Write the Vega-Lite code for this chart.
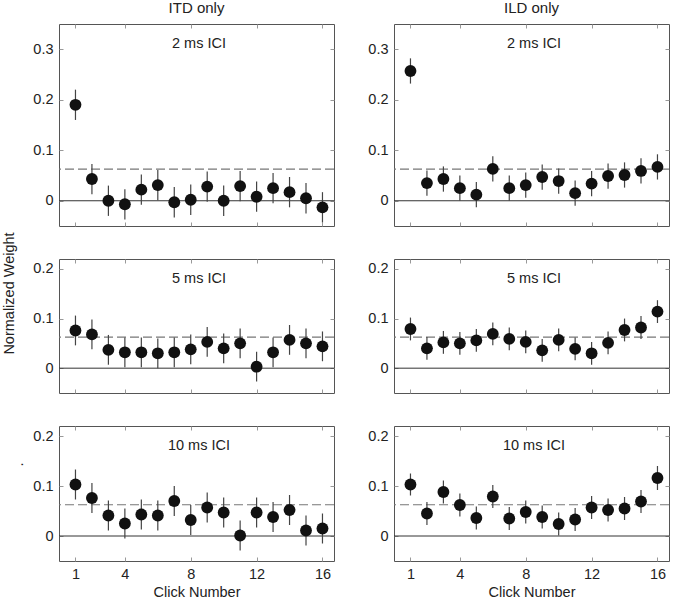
{
"$schema":"https://vega.github.io/schema/vega-lite/v6.json",
"padding":{"left":0,"top":0,"right":2,"bottom":0},
"bounds":"flush",
"config":{"font":"Liberation Sans","view":{"stroke":"#555","strokeWidth":1},
 "axis":{"domain":false,"grid":false,"tickColor":"#999","tickSize":-4,"labelFont":"Liberation Sans","labelFontSize":14.5,"labelColor":"#222","labelPadding":10,"titleFont":"Liberation Sans","titleFontSize":14.5,"titleFontWeight":"normal","titleColor":"#222"},
 "axisX":{"titlePadding":5},
 "title":{"fontSize":15,"fontWeight":"normal","font":"Liberation Sans","color":"#222","offset":8}},
"data":{"values":[
{"c":"ITD only","i":"2 ms ICI","k":1,"w":0.19,"e":0.03},{"c":"ITD only","i":"2 ms ICI","k":2,"w":0.043,"e":0.03},{"c":"ITD only","i":"2 ms ICI","k":3,"w":0.0,"e":0.03},{"c":"ITD only","i":"2 ms ICI","k":4,"w":-0.007,"e":0.03},{"c":"ITD only","i":"2 ms ICI","k":5,"w":0.022,"e":0.03},{"c":"ITD only","i":"2 ms ICI","k":6,"w":0.031,"e":0.03},{"c":"ITD only","i":"2 ms ICI","k":7,"w":-0.003,"e":0.03},{"c":"ITD only","i":"2 ms ICI","k":8,"w":0.002,"e":0.03},{"c":"ITD only","i":"2 ms ICI","k":9,"w":0.028,"e":0.03},{"c":"ITD only","i":"2 ms ICI","k":10,"w":0.0,"e":0.03},{"c":"ITD only","i":"2 ms ICI","k":11,"w":0.029,"e":0.03},{"c":"ITD only","i":"2 ms ICI","k":12,"w":0.008,"e":0.03},{"c":"ITD only","i":"2 ms ICI","k":13,"w":0.025,"e":0.03},{"c":"ITD only","i":"2 ms ICI","k":14,"w":0.017,"e":0.03},{"c":"ITD only","i":"2 ms ICI","k":15,"w":0.005,"e":0.03},{"c":"ITD only","i":"2 ms ICI","k":16,"w":-0.013,"e":0.03},
{"c":"ILD only","i":"2 ms ICI","k":1,"w":0.257,"e":0.025},{"c":"ILD only","i":"2 ms ICI","k":2,"w":0.035,"e":0.025},{"c":"ILD only","i":"2 ms ICI","k":3,"w":0.043,"e":0.025},{"c":"ILD only","i":"2 ms ICI","k":4,"w":0.025,"e":0.025},{"c":"ILD only","i":"2 ms ICI","k":5,"w":0.012,"e":0.025},{"c":"ILD only","i":"2 ms ICI","k":6,"w":0.063,"e":0.025},{"c":"ILD only","i":"2 ms ICI","k":7,"w":0.025,"e":0.025},{"c":"ILD only","i":"2 ms ICI","k":8,"w":0.031,"e":0.025},{"c":"ILD only","i":"2 ms ICI","k":9,"w":0.047,"e":0.025},{"c":"ILD only","i":"2 ms ICI","k":10,"w":0.039,"e":0.025},{"c":"ILD only","i":"2 ms ICI","k":11,"w":0.015,"e":0.025},{"c":"ILD only","i":"2 ms ICI","k":12,"w":0.034,"e":0.025},{"c":"ILD only","i":"2 ms ICI","k":13,"w":0.049,"e":0.025},{"c":"ILD only","i":"2 ms ICI","k":14,"w":0.051,"e":0.025},{"c":"ILD only","i":"2 ms ICI","k":15,"w":0.059,"e":0.025},{"c":"ILD only","i":"2 ms ICI","k":16,"w":0.067,"e":0.025},
{"c":"ITD only","i":"5 ms ICI","k":1,"w":0.076,"e":0.03},{"c":"ITD only","i":"5 ms ICI","k":2,"w":0.068,"e":0.03},{"c":"ITD only","i":"5 ms ICI","k":3,"w":0.037,"e":0.03},{"c":"ITD only","i":"5 ms ICI","k":4,"w":0.032,"e":0.03},{"c":"ITD only","i":"5 ms ICI","k":5,"w":0.032,"e":0.03},{"c":"ITD only","i":"5 ms ICI","k":6,"w":0.03,"e":0.03},{"c":"ITD only","i":"5 ms ICI","k":7,"w":0.032,"e":0.03},{"c":"ITD only","i":"5 ms ICI","k":8,"w":0.038,"e":0.03},{"c":"ITD only","i":"5 ms ICI","k":9,"w":0.053,"e":0.03},{"c":"ITD only","i":"5 ms ICI","k":10,"w":0.04,"e":0.03},{"c":"ITD only","i":"5 ms ICI","k":11,"w":0.05,"e":0.03},{"c":"ITD only","i":"5 ms ICI","k":12,"w":0.003,"e":0.03},{"c":"ITD only","i":"5 ms ICI","k":13,"w":0.032,"e":0.03},{"c":"ITD only","i":"5 ms ICI","k":14,"w":0.057,"e":0.03},{"c":"ITD only","i":"5 ms ICI","k":15,"w":0.05,"e":0.03},{"c":"ITD only","i":"5 ms ICI","k":16,"w":0.044,"e":0.03},
{"c":"ILD only","i":"5 ms ICI","k":1,"w":0.079,"e":0.023},{"c":"ILD only","i":"5 ms ICI","k":2,"w":0.04,"e":0.023},{"c":"ILD only","i":"5 ms ICI","k":3,"w":0.052,"e":0.023},{"c":"ILD only","i":"5 ms ICI","k":4,"w":0.05,"e":0.023},{"c":"ILD only","i":"5 ms ICI","k":5,"w":0.056,"e":0.023},{"c":"ILD only","i":"5 ms ICI","k":6,"w":0.069,"e":0.023},{"c":"ILD only","i":"5 ms ICI","k":7,"w":0.059,"e":0.023},{"c":"ILD only","i":"5 ms ICI","k":8,"w":0.053,"e":0.023},{"c":"ILD only","i":"5 ms ICI","k":9,"w":0.036,"e":0.023},{"c":"ILD only","i":"5 ms ICI","k":10,"w":0.057,"e":0.023},{"c":"ILD only","i":"5 ms ICI","k":11,"w":0.039,"e":0.023},{"c":"ILD only","i":"5 ms ICI","k":12,"w":0.03,"e":0.023},{"c":"ILD only","i":"5 ms ICI","k":13,"w":0.051,"e":0.023},{"c":"ILD only","i":"5 ms ICI","k":14,"w":0.077,"e":0.023},{"c":"ILD only","i":"5 ms ICI","k":15,"w":0.082,"e":0.023},{"c":"ILD only","i":"5 ms ICI","k":16,"w":0.114,"e":0.023},
{"c":"ITD only","i":"10 ms ICI","k":1,"w":0.103,"e":0.03},{"c":"ITD only","i":"10 ms ICI","k":2,"w":0.076,"e":0.03},{"c":"ITD only","i":"10 ms ICI","k":3,"w":0.041,"e":0.03},{"c":"ITD only","i":"10 ms ICI","k":4,"w":0.025,"e":0.03},{"c":"ITD only","i":"10 ms ICI","k":5,"w":0.043,"e":0.03},{"c":"ITD only","i":"10 ms ICI","k":6,"w":0.041,"e":0.03},{"c":"ITD only","i":"10 ms ICI","k":7,"w":0.07,"e":0.03},{"c":"ITD only","i":"10 ms ICI","k":8,"w":0.032,"e":0.03},{"c":"ITD only","i":"10 ms ICI","k":9,"w":0.057,"e":0.03},{"c":"ITD only","i":"10 ms ICI","k":10,"w":0.047,"e":0.03},{"c":"ITD only","i":"10 ms ICI","k":11,"w":0.001,"e":0.03},{"c":"ITD only","i":"10 ms ICI","k":12,"w":0.047,"e":0.03},{"c":"ITD only","i":"10 ms ICI","k":13,"w":0.038,"e":0.03},{"c":"ITD only","i":"10 ms ICI","k":14,"w":0.052,"e":0.03},{"c":"ITD only","i":"10 ms ICI","k":15,"w":0.011,"e":0.03},{"c":"ITD only","i":"10 ms ICI","k":16,"w":0.015,"e":0.03},
{"c":"ILD only","i":"10 ms ICI","k":1,"w":0.103,"e":0.022},{"c":"ILD only","i":"10 ms ICI","k":2,"w":0.045,"e":0.023},{"c":"ILD only","i":"10 ms ICI","k":3,"w":0.088,"e":0.023},{"c":"ILD only","i":"10 ms ICI","k":4,"w":0.062,"e":0.023},{"c":"ILD only","i":"10 ms ICI","k":5,"w":0.036,"e":0.023},{"c":"ILD only","i":"10 ms ICI","k":6,"w":0.079,"e":0.023},{"c":"ILD only","i":"10 ms ICI","k":7,"w":0.035,"e":0.023},{"c":"ILD only","i":"10 ms ICI","k":8,"w":0.048,"e":0.023},{"c":"ILD only","i":"10 ms ICI","k":9,"w":0.038,"e":0.023},{"c":"ILD only","i":"10 ms ICI","k":10,"w":0.024,"e":0.023},{"c":"ILD only","i":"10 ms ICI","k":11,"w":0.033,"e":0.023},{"c":"ILD only","i":"10 ms ICI","k":12,"w":0.057,"e":0.023},{"c":"ILD only","i":"10 ms ICI","k":13,"w":0.052,"e":0.023},{"c":"ILD only","i":"10 ms ICI","k":14,"w":0.055,"e":0.023},{"c":"ILD only","i":"10 ms ICI","k":15,"w":0.069,"e":0.023},{"c":"ILD only","i":"10 ms ICI","k":16,"w":0.116,"e":0.024}
]},
"columns":2,
"spacing":{"row":33,"column":60},
"concat":[
{"width":275,"height":202,"title":{"text":"ITD only"},
 "transform":[{"filter":"datum.c=='ITD only' && datum.i=='2 ms ICI'"}],
 "layer":[
  {"mark":{"type":"rule","color":"#333","strokeWidth":1},"transform":[{"filter":"datum.k==1"}],"encoding":{"y":{"datum":0,"type":"quantitative","scale":{"domain":[-0.05,0.35],"nice":false,"zero":false},"axis":null}}},
  {"mark":{"type":"rule","color":"#777","strokeWidth":1.2,"strokeDash":[9,4]},"transform":[{"filter":"datum.k==1"}],"encoding":{"y":{"datum":0.0625,"type":"quantitative","scale":{"domain":[-0.05,0.35],"nice":false,"zero":false},"axis":null}}},
  {"mark":{"type":"errorbar","color":"#444","thickness":1.2},"encoding":{"x":{"field":"k","type":"quantitative","scale":{"domain":[0,16.7],"nice":false,"zero":false},"axis":null},"y":{"field":"w","type":"quantitative","scale":{"domain":[-0.05,0.35],"nice":false,"zero":false},"axis":null},"yError":{"field":"e"}}},
  {"mark":{"type":"circle","size":140,"color":"#111","opacity":1},"encoding":{"x":{"field":"k","type":"quantitative","scale":{"domain":[0,16.7],"nice":false,"zero":false},"axis":{"values":[1,4,8,12,16],"labels":false,"title":null}},"y":{"field":"w","type":"quantitative","scale":{"domain":[-0.05,0.35],"nice":false,"zero":false},"axis":{"values":[0,0.1,0.2,0.3],"format":"~g","title":null}}}},
  {"mark":{"type":"circle","opacity":0},"encoding":{"x":{"field":"k","type":"quantitative","scale":{"domain":[0,16.7],"nice":false,"zero":false},"axis":{"orient":"top","values":[1,4,8,12,16],"labels":false,"title":null}},"y":{"field":"w","type":"quantitative","scale":{"domain":[-0.05,0.35],"nice":false,"zero":false},"axis":{"orient":"right","values":[0,0.1,0.2,0.3],"labels":false,"title":null}}}},
  {"mark":{"type":"text","fontSize":14.5,"color":"#222","baseline":"middle"},"transform":[{"filter":"datum.k==1"}],"encoding":{"x":{"datum":8.5,"type":"quantitative","scale":{"domain":[0,16.7],"nice":false,"zero":false},"axis":null},"y":{"datum":0.31,"type":"quantitative","scale":{"domain":[-0.05,0.35],"nice":false,"zero":false},"axis":null},"text":{"field":"i"}}}
 ],
 "resolve":{"axis":{"x":"independent","y":"independent"}}},
{"width":275,"height":202,"title":{"text":"ILD only"},
 "transform":[{"filter":"datum.c=='ILD only' && datum.i=='2 ms ICI'"}],
 "layer":[
  {"mark":{"type":"rule","color":"#333","strokeWidth":1},"transform":[{"filter":"datum.k==1"}],"encoding":{"y":{"datum":0,"type":"quantitative","scale":{"domain":[-0.05,0.35],"nice":false,"zero":false},"axis":null}}},
  {"mark":{"type":"rule","color":"#777","strokeWidth":1.2,"strokeDash":[9,4]},"transform":[{"filter":"datum.k==1"}],"encoding":{"y":{"datum":0.0625,"type":"quantitative","scale":{"domain":[-0.05,0.35],"nice":false,"zero":false},"axis":null}}},
  {"mark":{"type":"errorbar","color":"#444","thickness":1.2},"encoding":{"x":{"field":"k","type":"quantitative","scale":{"domain":[0,16.7],"nice":false,"zero":false},"axis":null},"y":{"field":"w","type":"quantitative","scale":{"domain":[-0.05,0.35],"nice":false,"zero":false},"axis":null},"yError":{"field":"e"}}},
  {"mark":{"type":"circle","size":140,"color":"#111","opacity":1},"encoding":{"x":{"field":"k","type":"quantitative","scale":{"domain":[0,16.7],"nice":false,"zero":false},"axis":{"values":[1,4,8,12,16],"labels":false,"title":null}},"y":{"field":"w","type":"quantitative","scale":{"domain":[-0.05,0.35],"nice":false,"zero":false},"axis":{"values":[0,0.1,0.2,0.3],"format":"~g","title":null}}}},
  {"mark":{"type":"circle","opacity":0},"encoding":{"x":{"field":"k","type":"quantitative","scale":{"domain":[0,16.7],"nice":false,"zero":false},"axis":{"orient":"top","values":[1,4,8,12,16],"labels":false,"title":null}},"y":{"field":"w","type":"quantitative","scale":{"domain":[-0.05,0.35],"nice":false,"zero":false},"axis":{"orient":"right","values":[0,0.1,0.2,0.3],"labels":false,"title":null}}}},
  {"mark":{"type":"text","fontSize":14.5,"color":"#222","baseline":"middle"},"transform":[{"filter":"datum.k==1"}],"encoding":{"x":{"datum":8.5,"type":"quantitative","scale":{"domain":[0,16.7],"nice":false,"zero":false},"axis":null},"y":{"datum":0.31,"type":"quantitative","scale":{"domain":[-0.05,0.35],"nice":false,"zero":false},"axis":null},"text":{"field":"i"}}}
 ],
 "resolve":{"axis":{"x":"independent","y":"independent"}}},
{"width":275,"height":134,
 "transform":[{"filter":"datum.c=='ITD only' && datum.i=='5 ms ICI'"}],
 "layer":[
  {"mark":{"type":"rule","color":"#333","strokeWidth":1},"transform":[{"filter":"datum.k==1"}],"encoding":{"y":{"datum":0,"type":"quantitative","scale":{"domain":[-0.05,0.22],"nice":false,"zero":false},"axis":null}}},
  {"mark":{"type":"rule","color":"#777","strokeWidth":1.2,"strokeDash":[9,4]},"transform":[{"filter":"datum.k==1"}],"encoding":{"y":{"datum":0.0625,"type":"quantitative","scale":{"domain":[-0.05,0.22],"nice":false,"zero":false},"axis":null}}},
  {"mark":{"type":"errorbar","color":"#444","thickness":1.2},"encoding":{"x":{"field":"k","type":"quantitative","scale":{"domain":[0,16.7],"nice":false,"zero":false},"axis":null},"y":{"field":"w","type":"quantitative","scale":{"domain":[-0.05,0.22],"nice":false,"zero":false},"axis":null},"yError":{"field":"e"}}},
  {"mark":{"type":"circle","size":140,"color":"#111","opacity":1},"encoding":{"x":{"field":"k","type":"quantitative","scale":{"domain":[0,16.7],"nice":false,"zero":false},"axis":{"values":[1,4,8,12,16],"labels":false,"title":null}},"y":{"field":"w","type":"quantitative","scale":{"domain":[-0.05,0.22],"nice":false,"zero":false},"axis":{"values":[0,0.1,0.2],"format":"~g","title":"Normalized Weight","titleX":-43,"titleY":34,"titleBaseline":"bottom"}}}},
  {"mark":{"type":"circle","opacity":0},"encoding":{"x":{"field":"k","type":"quantitative","scale":{"domain":[0,16.7],"nice":false,"zero":false},"axis":{"orient":"top","values":[1,4,8,12,16],"labels":false,"title":null}},"y":{"field":"w","type":"quantitative","scale":{"domain":[-0.05,0.22],"nice":false,"zero":false},"axis":{"orient":"right","values":[0,0.1,0.2],"labels":false,"title":null}}}},
  {"mark":{"type":"text","fontSize":14.5,"color":"#222","baseline":"middle"},"transform":[{"filter":"datum.k==1"}],"encoding":{"x":{"datum":8.5,"type":"quantitative","scale":{"domain":[0,16.7],"nice":false,"zero":false},"axis":null},"y":{"datum":0.179,"type":"quantitative","scale":{"domain":[-0.05,0.22],"nice":false,"zero":false},"axis":null},"text":{"field":"i"}}}
 ],
 "resolve":{"axis":{"x":"independent","y":"independent"}}},
{"width":275,"height":134,
 "transform":[{"filter":"datum.c=='ILD only' && datum.i=='5 ms ICI'"}],
 "layer":[
  {"mark":{"type":"rule","color":"#333","strokeWidth":1},"transform":[{"filter":"datum.k==1"}],"encoding":{"y":{"datum":0,"type":"quantitative","scale":{"domain":[-0.05,0.22],"nice":false,"zero":false},"axis":null}}},
  {"mark":{"type":"rule","color":"#777","strokeWidth":1.2,"strokeDash":[9,4]},"transform":[{"filter":"datum.k==1"}],"encoding":{"y":{"datum":0.0625,"type":"quantitative","scale":{"domain":[-0.05,0.22],"nice":false,"zero":false},"axis":null}}},
  {"mark":{"type":"errorbar","color":"#444","thickness":1.2},"encoding":{"x":{"field":"k","type":"quantitative","scale":{"domain":[0,16.7],"nice":false,"zero":false},"axis":null},"y":{"field":"w","type":"quantitative","scale":{"domain":[-0.05,0.22],"nice":false,"zero":false},"axis":null},"yError":{"field":"e"}}},
  {"mark":{"type":"circle","size":140,"color":"#111","opacity":1},"encoding":{"x":{"field":"k","type":"quantitative","scale":{"domain":[0,16.7],"nice":false,"zero":false},"axis":{"values":[1,4,8,12,16],"labels":false,"title":null}},"y":{"field":"w","type":"quantitative","scale":{"domain":[-0.05,0.22],"nice":false,"zero":false},"axis":{"values":[0,0.1,0.2],"format":"~g","title":null}}}},
  {"mark":{"type":"circle","opacity":0},"encoding":{"x":{"field":"k","type":"quantitative","scale":{"domain":[0,16.7],"nice":false,"zero":false},"axis":{"orient":"top","values":[1,4,8,12,16],"labels":false,"title":null}},"y":{"field":"w","type":"quantitative","scale":{"domain":[-0.05,0.22],"nice":false,"zero":false},"axis":{"orient":"right","values":[0,0.1,0.2],"labels":false,"title":null}}}},
  {"mark":{"type":"text","fontSize":14.5,"color":"#222","baseline":"middle"},"transform":[{"filter":"datum.k==1"}],"encoding":{"x":{"datum":8.5,"type":"quantitative","scale":{"domain":[0,16.7],"nice":false,"zero":false},"axis":null},"y":{"datum":0.179,"type":"quantitative","scale":{"domain":[-0.05,0.22],"nice":false,"zero":false},"axis":null},"text":{"field":"i"}}}
 ],
 "resolve":{"axis":{"x":"independent","y":"independent"}}},
{"width":275,"height":135,
 "transform":[{"filter":"datum.c=='ITD only' && datum.i=='10 ms ICI'"}],
 "layer":[
  {"mark":{"type":"rule","color":"#333","strokeWidth":1},"transform":[{"filter":"datum.k==1"}],"encoding":{"y":{"datum":0,"type":"quantitative","scale":{"domain":[-0.05,0.22],"nice":false,"zero":false},"axis":null}}},
  {"mark":{"type":"rule","color":"#777","strokeWidth":1.2,"strokeDash":[9,4]},"transform":[{"filter":"datum.k==1"}],"encoding":{"y":{"datum":0.0625,"type":"quantitative","scale":{"domain":[-0.05,0.22],"nice":false,"zero":false},"axis":null}}},
  {"mark":{"type":"errorbar","color":"#444","thickness":1.2},"encoding":{"x":{"field":"k","type":"quantitative","scale":{"domain":[0,16.7],"nice":false,"zero":false},"axis":null},"y":{"field":"w","type":"quantitative","scale":{"domain":[-0.05,0.22],"nice":false,"zero":false},"axis":null},"yError":{"field":"e"}}},
  {"mark":{"type":"circle","size":140,"color":"#111","opacity":1},"encoding":{"x":{"field":"k","type":"quantitative","scale":{"domain":[0,16.7],"nice":false,"zero":false},"axis":{"values":[1,4,8,12,16],"title":"Click Number"}},"y":{"field":"w","type":"quantitative","scale":{"domain":[-0.05,0.22],"nice":false,"zero":false},"axis":{"values":[0,0.1,0.2],"format":"~g","title":".","titleX":-37,"titleY":38,"titleBaseline":"alphabetic"}}}},
  {"mark":{"type":"circle","opacity":0},"encoding":{"x":{"field":"k","type":"quantitative","scale":{"domain":[0,16.7],"nice":false,"zero":false},"axis":{"orient":"top","values":[1,4,8,12,16],"labels":false,"title":null}},"y":{"field":"w","type":"quantitative","scale":{"domain":[-0.05,0.22],"nice":false,"zero":false},"axis":{"orient":"right","values":[0,0.1,0.2],"labels":false,"title":null}}}},
  {"mark":{"type":"text","fontSize":14.5,"color":"#222","baseline":"middle"},"transform":[{"filter":"datum.k==1"}],"encoding":{"x":{"datum":8.5,"type":"quantitative","scale":{"domain":[0,16.7],"nice":false,"zero":false},"axis":null},"y":{"datum":0.18,"type":"quantitative","scale":{"domain":[-0.05,0.22],"nice":false,"zero":false},"axis":null},"text":{"field":"i"}}}
 ],
 "resolve":{"axis":{"x":"independent","y":"independent"}}},
{"width":275,"height":135,
 "transform":[{"filter":"datum.c=='ILD only' && datum.i=='10 ms ICI'"}],
 "layer":[
  {"mark":{"type":"rule","color":"#333","strokeWidth":1},"transform":[{"filter":"datum.k==1"}],"encoding":{"y":{"datum":0,"type":"quantitative","scale":{"domain":[-0.05,0.22],"nice":false,"zero":false},"axis":null}}},
  {"mark":{"type":"rule","color":"#777","strokeWidth":1.2,"strokeDash":[9,4]},"transform":[{"filter":"datum.k==1"}],"encoding":{"y":{"datum":0.0625,"type":"quantitative","scale":{"domain":[-0.05,0.22],"nice":false,"zero":false},"axis":null}}},
  {"mark":{"type":"errorbar","color":"#444","thickness":1.2},"encoding":{"x":{"field":"k","type":"quantitative","scale":{"domain":[0,16.7],"nice":false,"zero":false},"axis":null},"y":{"field":"w","type":"quantitative","scale":{"domain":[-0.05,0.22],"nice":false,"zero":false},"axis":null},"yError":{"field":"e"}}},
  {"mark":{"type":"circle","size":140,"color":"#111","opacity":1},"encoding":{"x":{"field":"k","type":"quantitative","scale":{"domain":[0,16.7],"nice":false,"zero":false},"axis":{"values":[1,4,8,12,16],"title":"Click Number"}},"y":{"field":"w","type":"quantitative","scale":{"domain":[-0.05,0.22],"nice":false,"zero":false},"axis":{"values":[0,0.1,0.2],"format":"~g","title":null}}}},
  {"mark":{"type":"circle","opacity":0},"encoding":{"x":{"field":"k","type":"quantitative","scale":{"domain":[0,16.7],"nice":false,"zero":false},"axis":{"orient":"top","values":[1,4,8,12,16],"labels":false,"title":null}},"y":{"field":"w","type":"quantitative","scale":{"domain":[-0.05,0.22],"nice":false,"zero":false},"axis":{"orient":"right","values":[0,0.1,0.2],"labels":false,"title":null}}}},
  {"mark":{"type":"text","fontSize":14.5,"color":"#222","baseline":"middle"},"transform":[{"filter":"datum.k==1"}],"encoding":{"x":{"datum":8.5,"type":"quantitative","scale":{"domain":[0,16.7],"nice":false,"zero":false},"axis":null},"y":{"datum":0.18,"type":"quantitative","scale":{"domain":[-0.05,0.22],"nice":false,"zero":false},"axis":null},"text":{"field":"i"}}}
 ],
 "resolve":{"axis":{"x":"independent","y":"independent"}}}
]
}
